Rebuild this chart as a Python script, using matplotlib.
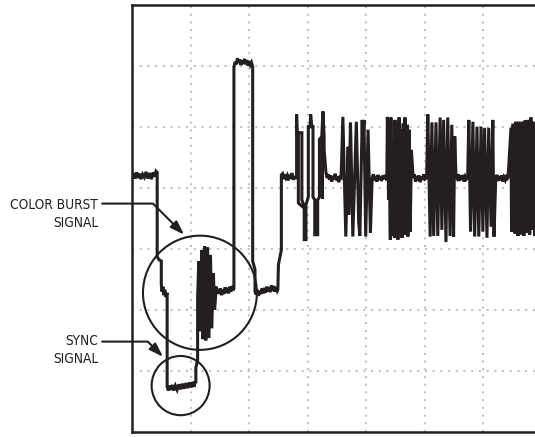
import numpy as np
import matplotlib
matplotlib.use("Agg")
import matplotlib.pyplot as plt
from matplotlib.patches import Ellipse
from matplotlib import font_manager as fm

# ---- data: time and level, both in screen divisions ----
prev_video_t = [0.00, 0.03, 0.05, 0.08, 0.10, 0.13, 0.15, 0.18, 0.21, 0.24, 0.27, 0.30, 0.33, 0.36, 0.39, 0.41, 0.43]
prev_video_v = [4.17, 4.24, 4.15, 4.25, 4.16, 4.23, 4.14, 4.22, 4.17, 4.26, 4.15, 4.24, 4.14, 4.25, 4.18, 4.27, 4.25]

front_porch_t = [0.43, 0.46, 0.50, 0.50, 0.51, 0.53, 0.54, 0.56, 0.58, 0.60]
front_porch_v = [2.87, 2.82, 2.80, 2.42, 2.30, 2.38, 2.24, 2.33, 2.21, 2.28]

sync_t = [0.60, 0.62, 0.64, 0.66, 0.69, 0.71, 0.74, 0.77, 0.80, 0.83, 0.86, 0.89, 0.92, 0.95, 0.98, 1.01, 1.04, 1.06, 1.08, 1.09]
sync_v = [0.74, 0.68, 0.76, 0.69, 0.77, 0.68, 0.76, 0.69, 0.78, 0.70, 0.79, 0.71, 0.80, 0.72, 0.81, 0.73, 0.82, 0.74, 0.83, 0.80]

breezeway_t = [1.09, 1.12, 1.12]
breezeway_v = [1.05, 1.18, 2.20]

burst_t = [1.14, 1.16, 1.19, 1.21, 1.24, 1.26, 1.29, 1.31, 1.34, 1.36, 1.39, 1.41, 1.44, 1.45]
burst_v = [2.80, 1.65, 2.98, 1.52, 3.04, 1.50, 3.02, 1.54, 2.90, 1.70, 2.60, 2.00, 2.38, 2.28]

back_porch_t = [1.47, 1.49, 1.51, 1.53, 1.55, 1.57, 1.59, 1.61, 1.63, 1.65, 1.67, 1.69, 1.71, 1.73, 1.74]
back_porch_v = [2.34, 2.26, 2.35, 2.24, 2.33, 2.26, 2.37, 2.28, 2.36, 2.27, 2.38, 2.30, 2.39, 2.32, 2.35]

white_bar_t = [1.74, 1.76, 1.78, 1.80, 1.82, 1.84, 1.86, 1.88, 1.90, 1.92, 1.94, 1.96, 1.98, 2.00, 2.02, 2.04, 2.06, 2.06, 2.10, 2.10]
white_bar_v = [5.97, 6.06, 6.02, 6.12, 6.04, 6.10, 6.01, 6.08, 6.03, 6.11, 6.02, 6.09, 6.00, 6.07, 6.01, 6.05, 5.98, 2.80, 2.66, 2.30]

blank_t = [2.12, 2.14, 2.16, 2.18, 2.20, 2.22, 2.24, 2.26, 2.28, 2.30, 2.32, 2.34, 2.36, 2.38, 2.40, 2.42, 2.44, 2.46, 2.48, 2.49, 2.50, 2.55, 2.55]
blank_v = [2.25, 2.33, 2.23, 2.31, 2.26, 2.35, 2.27, 2.36, 2.28, 2.38, 2.30, 2.37, 2.29, 2.40, 2.31, 2.39, 2.30, 2.37, 2.31, 2.33, 2.74, 2.98, 4.21]

mid1_t = [2.57, 2.59, 2.61, 2.63, 2.65, 2.67, 2.69, 2.71, 2.73, 2.75, 2.77, 2.78]
mid1_v = [4.23, 4.14, 4.22, 4.16, 4.20, 4.12, 4.21, 4.15, 4.24, 4.13, 4.19, 4.16]

pulses_t = [2.81, 2.81, 2.82, 2.90, 2.90, 2.94, 2.94, 2.97, 2.97, 3.01, 3.01, 3.04, 3.05, 3.07, 3.09, 3.09, 3.12,
            3.12, 3.17, 3.17, 3.20, 3.20, 3.24, 3.26, 3.28, 3.28, 3.31, 3.33]
pulses_v = [4.16, 5.20, 4.90, 4.90, 3.80, 3.69, 3.15, 3.15, 3.72, 3.85, 5.00, 5.00, 5.20, 5.00, 5.00, 3.85, 3.80,
            3.23, 3.23, 3.80, 3.85, 4.79, 4.84, 5.25, 4.84, 4.62, 4.26, 4.16]

mid2_t = [3.35, 3.37, 3.39, 3.41, 3.43, 3.45, 3.47, 3.49, 3.51, 3.53, 3.55, 3.57]
mid2_v = [4.22, 4.13, 4.20, 4.10, 4.19, 4.14, 4.23, 4.12, 4.18, 4.09, 4.17, 4.16]

group_a_t = [3.60, 3.65, 3.69, 3.70, 3.73, 3.77, 3.83, 3.87, 3.89, 3.93, 3.94, 3.96, 3.99, 4.03, 4.07, 4.10]
group_a_v = [5.16, 3.20, 4.67, 3.56, 5.07, 3.20, 5.08, 3.43, 3.21, 5.11, 4.62, 5.11, 3.20, 4.95, 3.26, 4.16]

mid3_t = [4.12, 4.14, 4.16, 4.18, 4.20, 4.22, 4.24, 4.26, 4.28, 4.30, 4.32, 4.34, 4.35]
mid3_v = [4.22, 4.12, 4.19, 4.10, 4.21, 4.13, 4.18, 4.11, 4.20, 4.14, 4.21, 4.15, 4.16]

group_b_t = [4.36, 4.38, 4.39, 4.41, 4.42, 4.44, 4.46, 4.48, 4.49, 4.51, 4.53, 4.54, 4.56, 4.58, 4.60, 4.61,
             4.63, 4.65, 4.66, 4.68, 4.70, 4.71, 4.73, 4.75, 4.77, 4.80]
group_b_v = [5.16, 3.80, 4.62, 3.15, 5.15, 3.21, 4.79, 3.18, 5.11, 3.39, 5.07, 3.15, 5.15, 3.26, 4.95, 3.18,
             5.05, 3.23, 5.15, 3.34, 5.03, 3.20, 4.95, 3.28, 4.62, 4.16]

mid4_t = [4.82, 4.84, 4.86, 4.88, 4.90, 4.92, 4.94, 4.96, 4.98, 5.00, 5.03]
mid4_v = [4.22, 4.10, 4.19, 4.12, 4.20, 4.09, 4.18, 4.13, 4.22, 4.14, 4.16]

group_c_t = [5.05, 5.09, 5.12, 5.15, 5.19, 5.22, 5.26, 5.29, 5.32, 5.36, 5.39, 5.43, 5.46, 5.49, 5.51, 5.53, 5.55]
group_c_v = [5.20, 3.20, 5.07, 3.21, 5.07, 3.21, 5.15, 3.31, 5.11, 3.11, 5.15, 3.21, 5.03, 3.20, 4.84, 4.21, 4.16]

mid5_t = [5.57, 5.59, 5.61, 5.63, 5.65, 5.67, 5.69, 5.71, 5.73]
mid5_v = [4.22, 4.11, 4.20, 4.13, 4.21, 4.10, 4.18, 4.14, 4.16]

group_d_t = [5.75, 5.78, 5.82, 5.85, 5.89, 5.92, 5.96, 5.99, 6.02, 6.06, 6.09, 6.13, 6.16, 6.18, 6.21]
group_d_v = [5.11, 3.28, 5.08, 3.20, 5.00, 3.20, 5.00, 3.28, 4.98, 3.18, 4.98, 3.36, 5.11, 3.20, 4.16]

mid6_t = [6.23, 6.25, 6.27, 6.29, 6.31, 6.33, 6.35, 6.37, 6.39, 6.41, 6.42]
mid6_v = [4.21, 4.11, 4.19, 4.12, 4.20, 4.10, 4.17, 4.13, 4.21, 4.15, 4.16]

group_e_t = [6.47, 6.48, 6.50, 6.54, 6.55, 6.59, 6.60, 6.64, 6.66, 6.69, 6.71, 6.74, 6.76, 6.79, 6.81, 6.84, 6.86, 6.88, 6.91]
group_e_v = [4.98, 3.28, 5.05, 3.25, 5.08, 3.21, 5.08, 3.23, 5.08, 3.21, 5.10, 3.26, 5.11, 3.23, 5.15, 3.31, 5.08, 3.21, 5.03]

# second (interlaced) trace lines inside the outlined pulses
ghost1_t = [2.84, 2.84, 2.91]
ghost1_v = [4.90, 3.75, 3.69]
ghost2_t = [3.25, 3.25]
ghost2_v = [4.84, 3.85]

# callout circles: centre (t, v) and diameter in divisions (t, v)
burst_circle = (1.16, 2.28, 1.945, 1.87)
sync_circle = (0.83, 0.76, 0.99, 0.97)

labels = ["COLOR BURST\nSIGNAL", "SYNC\nSIGNAL"]
label_pos = [(-0.58, 3.57), (-0.58, 1.34)]
arrow_start = [(-0.51, 3.74), (-0.51, 1.48)]
arrow_tip = [(0.89, 3.23), (0.53, 1.23)]

x_grid = [1, 2, 3, 4, 5, 6]
y_grid = [1, 2, 3, 4, 5, 6]

INK = "#231f20"


def narrow_font():
    """Pick a condensed sans face if one is installed."""
    best = None
    rank_best = 99
    for f in fm.fontManager.ttflist:
        name = f.name
        stretch = str(f.stretch).lower()
        is_narrow = ("narrow" in name.lower() or "condensed" in name.lower()
                     or stretch in ("condensed", "semi-condensed", "extra-condensed"))
        if not is_narrow or f.style != "normal":
            continue
        if str(f.weight).lower() not in ("400", "normal", "regular", "book"):
            continue
        if "Liberation Sans Narrow" in name:
            rank = 0
        elif name.startswith("Noto Sans") and "CJK" not in name and "Mono" not in name:
            rank = 1
        elif name.startswith("DejaVu Sans") and "Mono" not in name:
            rank = 2
        elif "Sans" in name or "Roboto" in name or "Open" in name:
            rank = 3
        else:
            rank = 5
        if rank < rank_best:
            rank_best = rank
            best = f.fname
    return best


# ---- figure ----
fig = plt.figure(figsize=(5.35, 4.37), dpi=100)
ax = fig.add_axes([132 / 535, 5 / 437, 403 / 535, 427.5 / 437])
ax.set_xlim(0, 6.88)
ax.set_ylim(0, 7)

for gx in x_grid:
    ax.axvline(gx, color="#c4c4c4", lw=1.5, linestyle=(0, (1, 2.7)), zorder=0)
for gy in y_grid:
    ax.axhline(gy, color="#c4c4c4", lw=1.5, linestyle=(0, (1, 2.7)), zorder=0)

segments_t = [prev_video_t, front_porch_t, sync_t, breezeway_t, burst_t, back_porch_t, white_bar_t,
              blank_t, mid1_t, pulses_t, mid2_t, group_a_t, mid3_t, group_b_t, mid4_t, group_c_t,
              mid5_t, group_d_t, mid6_t, group_e_t]
segments_v = [prev_video_v, front_porch_v, sync_v, breezeway_v, burst_v, back_porch_v, white_bar_v,
              blank_v, mid1_v, pulses_v, mid2_v, group_a_v, mid3_v, group_b_v, mid4_v, group_c_v,
              mid5_v, group_d_v, mid6_v, group_e_v]
trace_t = np.concatenate(segments_t)
trace_v = np.concatenate(segments_v)
ax.plot(trace_t, trace_v, color=INK, lw=2.2, solid_joinstyle="miter", zorder=3)
ax.plot(ghost1_t, ghost1_v, color=INK, lw=2.2, zorder=3)
ax.plot(ghost2_t, ghost2_v, color=INK, lw=2.2, zorder=3)

for cx, cy, w, h in (burst_circle, sync_circle):
    ax.add_patch(Ellipse((cx, cy), w, h, fill=False, edgecolor=INK, lw=1.5, zorder=4))

fname = narrow_font()
if fname:
    fp = fm.FontProperties(fname=fname, size=10.5)
else:
    fp = fm.FontProperties(family=["Roboto", "DejaVu Sans"], size=10.5)

texts = []
for text, (tx, ty), start, tip in zip(labels, label_pos, arrow_start, arrow_tip):
    t = ax.text(tx, ty, text, ha="right", va="center", multialignment="right",
                fontproperties=fp, color=INK, linespacing=1.25, clip_on=False)
    texts.append(t)
    ax.annotate("", xy=tip, xytext=start, annotation_clip=False,
                arrowprops=dict(arrowstyle="-|>,head_length=0.6,head_width=0.2",
                                connectionstyle="angle,angleA=0,angleB=135,rad=0",
                                color=INK, lw=1.5, shrinkA=0, shrinkB=0, mutation_scale=14))

# shrink the labels if the chosen face is too wide for the margin
fig.canvas.draw()
renderer = fig.canvas.get_renderer()
width = texts[0].get_window_extent(renderer).width
if width > 88:
    new_size = 10.5 * 88 / width
    for t in texts:
        t.set_fontsize(new_size)
        t.set_linespacing(1.25 * 10.5 / new_size)

ax.set_xticks([])
ax.set_yticks([])
for side in ("left", "top", "bottom"):
    ax.spines[side].set_linewidth(1.8)
    ax.spines[side].set_color(INK)
ax.spines["right"].set_visible(False)

fig.savefig("out.png", dpi=100)
